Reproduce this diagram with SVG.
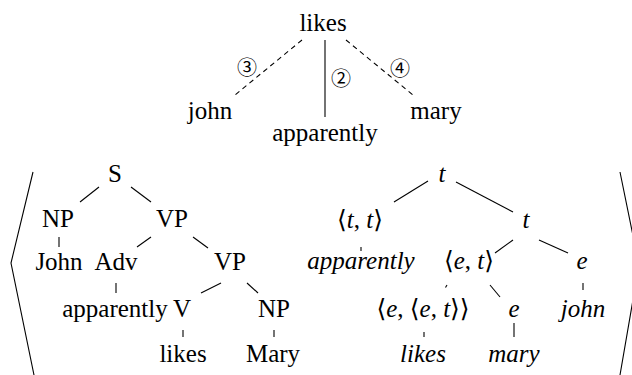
<svg xmlns="http://www.w3.org/2000/svg" width="632" height="375" viewBox="0 0 632 375">
<rect width="632" height="375" fill="#fff"/>
<g id="connectors" stroke="#000" stroke-width="1.1" fill="none">
<line stroke-dasharray="5 4" x1="302" y1="40" x2="235" y2="95"/>
<line x1="325" y1="40" x2="325" y2="117"/>
<line stroke-dasharray="5 4" x1="346" y1="40" x2="413" y2="95"/>
<polyline points="33,172 11,263 34,375"/>
<polyline points="620,172 639,265 620,375"/>
<line x1="99" y1="187" x2="80" y2="202"/>
<line x1="131" y1="187" x2="151" y2="202"/>
<line x1="59" y1="237" x2="59" y2="247"/>
<line x1="151" y1="237" x2="137" y2="247"/>
<line x1="193" y1="237" x2="208" y2="248"/>
<line x1="116" y1="283" x2="116" y2="293"/>
<line x1="221" y1="283" x2="201" y2="293"/>
<line x1="247" y1="283" x2="258" y2="293"/>
<line x1="183" y1="330" x2="183" y2="337"/>
<line x1="274" y1="330" x2="274" y2="337"/>
<line x1="428" y1="181" x2="394" y2="202"/>
<line x1="456" y1="182" x2="513" y2="212"/>
<line x1="361" y1="247" x2="361" y2="251"/>
<line x1="513" y1="240" x2="495" y2="253"/>
<line x1="539" y1="240" x2="568" y2="253"/>
<line x1="447" y1="285" x2="445.5" y2="287.5"/>
<line x1="490" y1="285" x2="500" y2="297"/>
<line x1="583" y1="283" x2="583" y2="290"/>
<line x1="424" y1="332" x2="424" y2="337"/>
<line x1="514" y1="323" x2="514" y2="337"/>
</g>
<g id="labels" text-anchor="middle">
<g id="l3"><text style="font-family:'Noto Sans CJK SC',sans-serif;font-size:20px" x="247" y="75">&#x2462;</text></g>
<g id="l2"><text style="font-family:'Noto Sans CJK SC',sans-serif;font-size:20px" x="341" y="86">&#x2461;</text></g>
<g id="l4"><text style="font-family:'Noto Sans CJK SC',sans-serif;font-size:20px" x="400" y="76">&#x2463;</text></g>
</g>
<g id="dep" text-anchor="middle">
<g id="d-likes"><text style="font-family:'Liberation Serif',serif !important;font-size:25px" x="323" y="31">likes</text></g>
<g id="d-john"><text style="font-family:'Liberation Serif',serif !important;font-size:25px" x="210" y="119">john</text></g>
<g id="d-apparently"><text style="font-family:'Liberation Serif',serif !important;font-size:25px" x="325" y="141">apparently</text></g>
<g id="d-mary"><text style="font-family:'Liberation Serif',serif !important;font-size:25px" x="436" y="119">mary</text></g>
</g>
<g id="syn" text-anchor="middle">
<g id="s-S"><text style="font-family:'Liberation Serif',serif !important;font-size:25px" x="115" y="182">S</text></g>
<g id="s-NP1"><text style="font-family:'Liberation Serif',serif !important;font-size:25px" x="58" y="227">NP</text></g>
<g id="s-VP1"><text style="font-family:'Liberation Serif',serif !important;font-size:25px" x="172" y="227">VP</text></g>
<g id="s-John"><text style="font-family:'Liberation Serif',serif !important;font-size:25px" x="59" y="270">John</text></g>
<g id="s-Adv"><text style="font-family:'Liberation Serif',serif !important;font-size:25px" x="116" y="270">Adv</text></g>
<g id="s-VP2"><text style="font-family:'Liberation Serif',serif !important;font-size:25px" x="230" y="270">VP</text></g>
<g id="s-apparently"><text style="font-family:'Liberation Serif',serif !important;font-size:25px" x="115" y="317">apparently</text></g>
<g id="s-V"><text style="font-family:'Liberation Serif',serif !important;font-size:25px" x="182" y="317">V</text></g>
<g id="s-NP2"><text style="font-family:'Liberation Serif',serif !important;font-size:25px" x="274" y="317">NP</text></g>
<g id="s-likes"><text style="font-family:'Liberation Serif',serif !important;font-size:25px" x="183" y="362">likes</text></g>
<g id="s-Mary"><text style="font-family:'Liberation Serif',serif !important;font-size:25px" x="273" y="362">Mary</text></g>
</g>
<g id="sem" text-anchor="middle">
<g id="t-root"><text style="font-family:'Liberation Serif',serif !important;font-size:25px;font-style:italic" x="442" y="182">t</text></g>
<g id="t-tt"><text style="font-family:'Liberation Serif','DejaVu Serif',serif !important;font-size:25px" x="360" y="228">&#x27E8;<tspan font-style="italic">t</tspan>, <tspan font-style="italic">t</tspan>&#x27E9;</text></g>
<g id="t-t"><text style="font-family:'Liberation Serif',serif !important;font-size:25px;font-style:italic" x="526" y="228">t</text></g>
<g id="t-apparently"><text style="font-family:'Liberation Serif',serif !important;font-size:25px;font-style:italic" x="361" y="269">apparently</text></g>
<g id="t-et"><text style="font-family:'Liberation Serif','DejaVu Serif',serif !important;font-size:25px" x="469" y="269">&#x27E8;<tspan font-style="italic">e</tspan>, <tspan font-style="italic">t</tspan>&#x27E9;</text></g>
<g id="t-e1"><text style="font-family:'Liberation Serif',serif !important;font-size:25px;font-style:italic" x="582" y="269">e</text></g>
<g id="t-eet"><text style="font-family:'Liberation Serif','DejaVu Serif',serif !important;font-size:25px" x="423" y="317">&#x27E8;<tspan font-style="italic">e</tspan>, &#x27E8;<tspan font-style="italic">e</tspan>, <tspan font-style="italic">t</tspan>&#x27E9;&#x27E9;</text></g>
<g id="t-e2"><text style="font-family:'Liberation Serif',serif !important;font-size:25px;font-style:italic" x="514" y="317">e</text></g>
<g id="t-john"><text style="font-family:'Liberation Serif',serif !important;font-size:25px;font-style:italic" x="583" y="317">john</text></g>
<g id="t-likes"><text style="font-family:'Liberation Serif',serif !important;font-size:25px;font-style:italic" x="423" y="362">likes</text></g>
<g id="t-mary"><text style="font-family:'Liberation Serif',serif !important;font-size:25px;font-style:italic" x="514" y="362">mary</text></g>
</g>
</svg>
